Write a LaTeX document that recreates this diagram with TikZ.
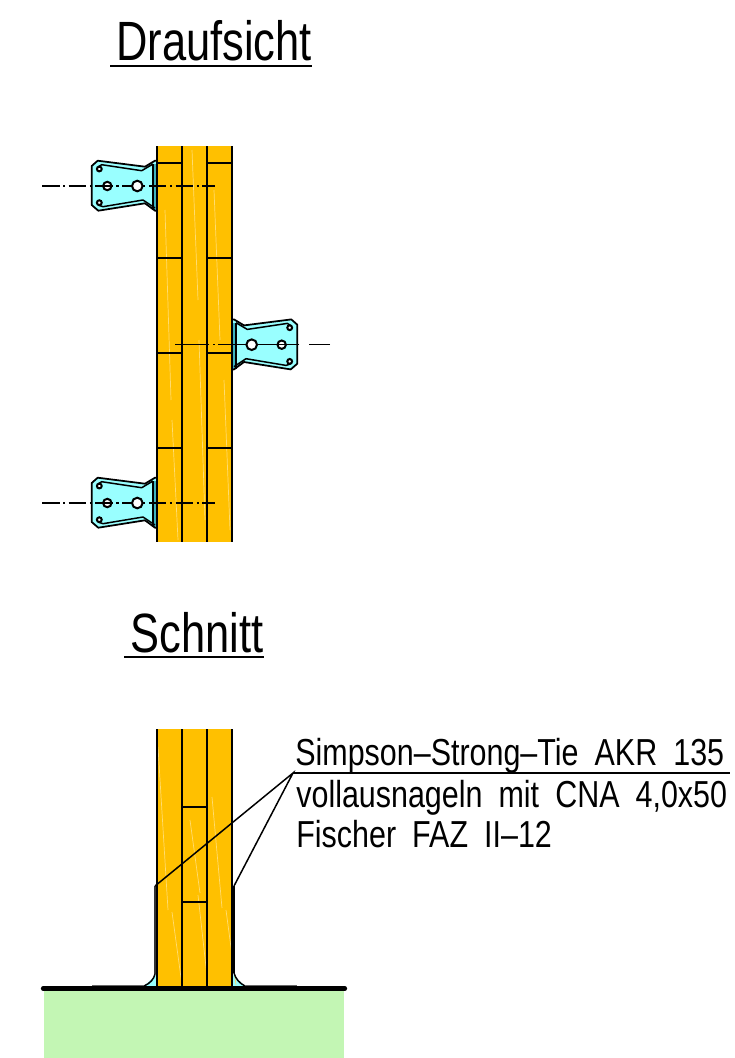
\documentclass[tikz,border=0pt]{standalone}
\usepackage{fontspec}
\setmainfont[FakeStretch=0.81,WordSpace=1.9]{Liberation Sans}
\newfontfamily\titlefont[FakeStretch=0.785]{Liberation Sans}
\definecolor{wood}{HTML}{FFC000}
\definecolor{woodlight}{HTML}{FFDC70}
\definecolor{steel}{HTML}{99FFFF}
\definecolor{steeldark}{HTML}{3FB4BE}
\definecolor{ground}{HTML}{C3F6B4}
\tikzset{
	edgeline/.style={line width=1pt},
	thinline/.style={line width=0.85pt},
	holeline/.style={line width=1.15pt,fill=white},
	streak/.style={line width=0.4pt,color=woodlight},
	axisline/.style={line width=0.85pt,dash pattern=on 10pt off 2pt on 1.2pt off 2pt},
	axisright/.style={line width=0.85pt,dash pattern=on 12pt off 5.5pt on 46pt off 2pt on 1.2pt off 2pt on 70pt off 0pt},
	titletext/.style={anchor=base west,inner sep=0pt,font=\titlefont\fontsize{31.5}{34}\selectfont},
	notetext/.style={anchor=base west,inner sep=0pt,font=\fontsize{21.4}{24}\selectfont},
	bracket/.pic={
		\fill[steel] (-65.3,-20) -- (-59.3,-25.3) -- (-12,-19.3) -- (-2,-25.3) -- (0,-25.3) -- (0,25) -- (-2,24.7) -- (-12,17.3) -- (-58.7,24.7) -- (-65.3,19) -- cycle;
		\fill[steeldark] (-4,-22) rectangle (0,24);
		\draw[edgeline,line join=round] (0,-25.3) -- (-2,-25.3) -- (-12,-19.3) -- (-59.3,-25.3) -- (-65.3,-20) -- (-65.3,19) -- (-58.7,24.7) -- (-12,17.3) -- (-2,24.7) -- (0,25);
		\draw[thinline,line join=round] (-59,-19) -- (-55.3,-21.3) -- (-15.3,-15.3) -- (-4,-22);
		\draw[thinline,line join=round] (-59,19) -- (-54,20.7) -- (-14,14) -- (-2,22);
		\draw[thinline] (-4,-22) -- (-4,24);
		\draw[holeline] (-49.7,0) circle (4.2);
		\draw[holeline] (-57.7,-17) circle (2.4);
		\draw[holeline] (-57.7,16.7) circle (2.4);
	},
	bracketbore/.pic={
		\draw[holeline] (-19.7,0) circle (5.3);
	}
}
\begin{document}
\begin{tikzpicture}[x=0.02cm,y=-0.02cm]
	\useasboundingbox (0,0) rectangle (734,1058);
	% Draufsicht
	\node[titletext] (titleTop) at (116,60) {Draufsicht};
	\coordinate (titleTopA) at (110,66);
	\coordinate (titleTopB) at (312,66);
	\draw[line width=1.3pt] (titleTopA) -- (titleTopB);
	\pic at (157,186) {bracket};
	\pic at (157,503) {bracket};
	\pic[xscale=-1] at (232,344.7) {bracket};
	\fill[wood] (157,146) rectangle (232,542);
	\foreach \x/\ya/\yb in {165/210/400,172/420/540,192/150/300,199/340/520,214/190/340,224/380/530}
		\draw[streak] (\x,\ya) -- (\x+6,\yb);
	\foreach \y in {163,258,353,448} {
		\draw[thinline] (157,\y) -- (182,\y);
		\draw[thinline] (207,\y) -- (232,\y);
	}
	\foreach \x in {157,182,207,232}
		\draw[edgeline] (\x,146) -- (\x,542);
	% Mittellinien
	\coordinate (axisTopA) at (42,186);
	\coordinate (axisTopB) at (215,186);
	\coordinate (axisMidA) at (330,344.7);
	\coordinate (axisMidB) at (175,344.7);
	\coordinate (axisLowA) at (42,503);
	\coordinate (axisLowB) at (215,503);
	\draw[axisline] (axisTopA) -- (axisTopB);
	\draw[axisright] (axisMidA) -- (axisMidB);
	\draw[axisline] (axisLowA) -- (axisLowB);
	\pic at (157,186) {bracketbore};
	\pic at (157,503) {bracketbore};
	\pic[xscale=-1] at (232,344.7) {bracketbore};
	% Schnitt
	\node[titletext] (titleLow) at (130,652) {Schnitt};
	\coordinate (titleLowA) at (124,657);
	\coordinate (titleLowB) at (264,657);
	\draw[line width=1.3pt] (titleLowA) -- (titleLowB);
	\fill[ground] (44,988) rectangle (344,1058);
	\fill[steel] (157,974) -- (144,986) -- (157,986) -- cycle;
	\fill[steel] (232,974) -- (245,986) -- (232,986) -- cycle;
	\fill[wood] (157,729) rectangle (232,988);
	\foreach \x/\ya/\yb in {158/747/910,172/912/985,190/820/893,198/895/985,212/797/908,226/910/985}
		\draw[streak] (\x,\ya) -- (\x+10,\yb);
	\foreach \x in {157,182,207,232}
		\draw[edgeline] (\x,729) -- (\x,988);
	\foreach \y in {807,902}
		\draw[thinline] (182,\y) -- (207,\y);
	\coordinate (plateL) at (155,886);
	\coordinate (plateR) at (234,886);
	\coordinate (plateLFoot) at (92,986);
	\coordinate (plateRFoot) at (297,986);
	\draw[line width=1.2pt,color=black!80] (plateL) -- (155,974);
	\draw[line width=1.6pt] (plateR) -- (234,973);
	\draw[thinline] (155,974) .. controls (154,979) and (150,983.5) .. (144,986);
	\draw[thinline] (234,973) .. controls (235.5,979) and (240,983.5) .. (245,986);
	\draw[thinline,color=black!60] (144,986) -- (plateLFoot);
	\draw[thinline,color=black!60] (245,986) -- (plateRFoot);
	\coordinate (groundA) at (43,988.5);
	\coordinate (groundB) at (345,988.5);
	\draw[line width=2.4pt,line cap=round] (groundA) -- (groundB);
	% Beschriftung
	\node[notetext] (noteA) at (295,765) {Simpson--Strong--Tie AKR 135};
	\node[notetext] (noteB) at (296,807) {vollausnageln mit CNA 4,0x50};
	\node[notetext] (noteC) at (296,847) {Fischer FAZ II--12};
	\coordinate (leaderKnick) at (293,773);
	\coordinate (leaderEnd) at (730,773);
	\draw[thinline] (plateL) -- (leaderKnick) -- (plateR);
	\draw[thinline] (leaderKnick) -- (leaderEnd);
\end{tikzpicture}
\end{document}
